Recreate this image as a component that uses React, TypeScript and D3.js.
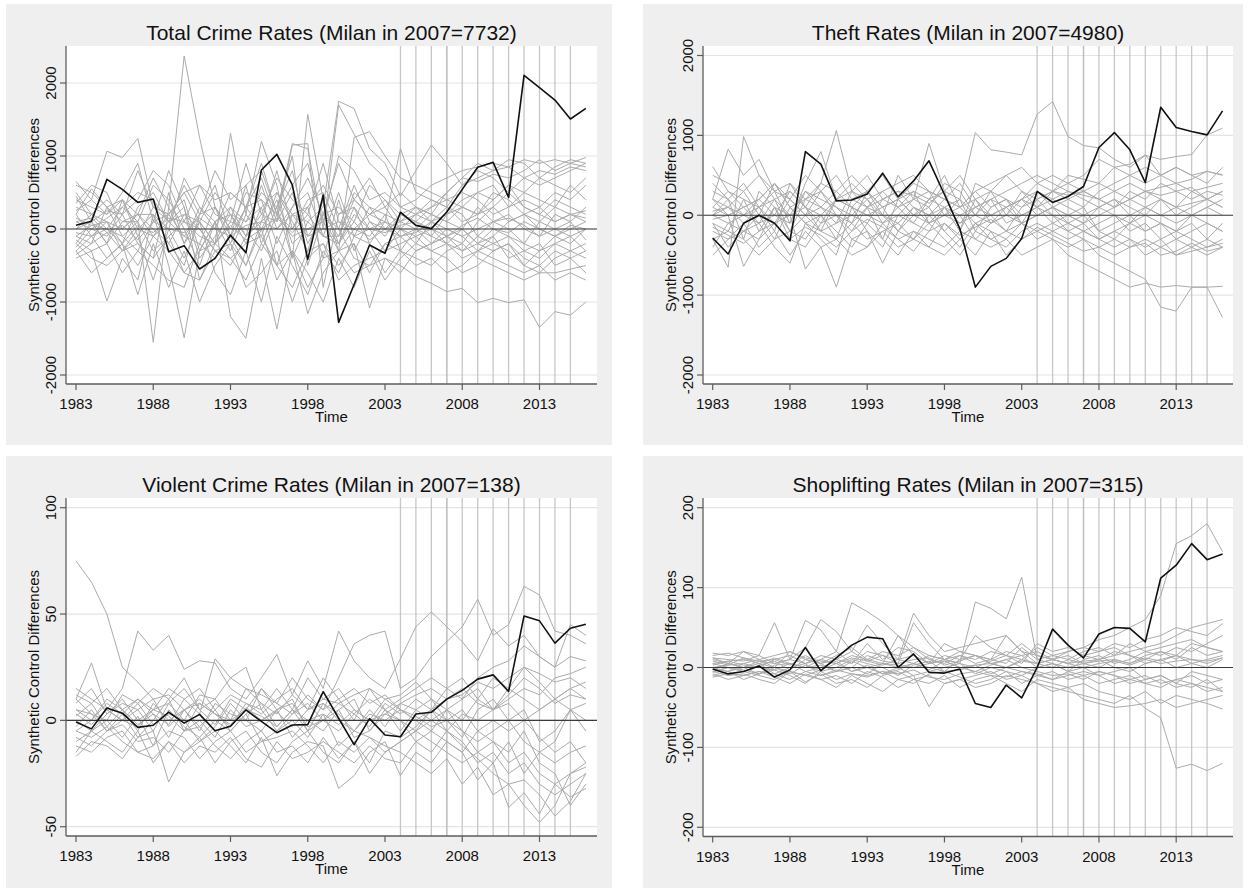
import React from 'react';
import * as d3 from 'd3';

// ---------- data ----------
const YEARS = d3.range(1983, 2017);
const X_TICKS = [1983, 1988, 1993, 1998, 2003, 2008, 2013];
const TREAT_YEARS = [2004, 2005, 2006, 2007, 2007, 2008, 2009, 2010, 2011, 2012, 2013, 2014, 2015];

const TITLES = [
  'Total Crime Rates (Milan in 2007=7732)',
  'Theft Rates (Milan in 2007=4980)',
  'Violent Crime Rates (Milan in 2007=138)',
  'Shoplifting Rates (Milan in 2007=315)',
];
const Y_TITLE = 'Synthetic Control Differences';
const X_TITLE = 'Time';

const TOTAL_TICKS = [-2000, -1000, 0, 1000, 2000];
const THEFT_TICKS = [-2000, -1000, 0, 1000, 2000];
const VIOLENT_TICKS = [-50, 0, 50, 100];
const SHOP_TICKS = [-200, -100, 0, 100, 200];

const TOTAL_MILAN = [50, 105, 680, 543, 365, 411, -311, -228, -548, -402, -85, -324, 808, 1023, 603, -416, 466, -1279, -760, -219, -333, 230, 50, 5, 233, 543, 845, 913, 434, 2105, 1936, 1767, 1507, 1653];
const TOTAL_PLACEBO = [
  [650, 400, 1065, 980, 1240, 300, 200, 400, -300, 100, 200, 100, 300, 500, 200, 100, 300, 1750, 1650, 1100, 900, 450, 800, 1150, 900, 600, 700, 800, 850, 950, 900, 950, 900, 980],
  [200, 550, 300, -100, 100, -1553, 300, 2370, 1250, 300, -200, -500, 100, 300, 1000, -500, 200, 300, 100, 600, 400, 200, 300, 200, 500, 700, 650, 750, 700, 800, 950, 800, 900, 850],
  [-400, -300, -986, -400, -700, 200, -500, -1489, -300, 100, -1200, -1498, -400, -1370, -300, -1160, -600, -300, -200, -1083, -400, -500, -650, -744, -858, -813, -1009, -950, -1009, -970, -1347, -1132, -1180, -1000],
  [400, 300, 200, 500, 900, 100, 800, 300, -700, -200, 1310, 200, 1200, 600, -400, 1570, 400, -300, 1255, 1333, 1000, 700, 600, 500, 400, 300, 200, 300, 100, 200, 300, 100, 200, 250],
  [-200, 100, 250, 200, 400, 800, 600, 100, 600, 400, 500, 300, 900, 200, 1170, 1100, 0, 1700, 1300, 900, 700, 300, 200, 100, -100, -200, 100, 300, 500, 300, 200, 100, 200, 150],
  [300, 200, 100, -300, 0, 200, -200, -500, 200, 600, -100, 300, 700, 100, 1150, 1170, -800, 200, 300, 0, 100, 1100, 500, 400, 300, 600, 800, 700, 500, 700, 600, 700, 800, 900],
  [100, 0, -100, 200, -200, -400, 500, -200, 300, 100, -300, 200, -100, 500, 100, -300, 400, -200, 300, -200, 100, 0, -200, 100, 300, 200, -100, 100, 0, -200, 100, 0, -100, 0],
  [-100, -200, 300, 100, 200, -100, 100, 300, -400, -100, 200, -200, 300, -500, 200, 300, -400, 400, -300, 100, -100, 200, 100, -100, 200, 400, 500, 600, 300, 500, 700, 600, 500, 700],
  [-300, -600, -400, -200, -900, -200, -800, -300, -1000, -500, -200, -800, -600, -300, -1000, -400, -200, -700, -500, -400, -300, -200, -100, 0, -200, -300, -100, -200, -300, -500, -600, -400, -300, -200],
  [500, 200, 0, -200, 300, 500, 100, -100, 200, 800, 400, 600, -200, 300, -400, 100, -100, 500, -100, 300, 200, -300, 0, 200, 100, 0, 300, 100, 200, 0, -100, 200, 100, 300],
  [0, 100, -200, 100, 100, 600, 400, 0, -500, 100, 300, -100, 100, 800, 0, 400, 500, 0, 600, 100, 0, 100, 200, 300, 400, 500, 400, 200, 300, 400, 300, 500, 400, 600],
  [-200, -400, -500, -300, -100, -700, 0, -400, 100, -600, -900, -300, -1000, -100, -500, -900, -300, -600, -100, -200, -600, -300, -400, -500, -300, -200, -400, -500, -600, -700, -600, -600, -550, -500],
  [250, 400, 200, 400, -100, 300, 200, 500, 600, 200, 100, 900, 200, 700, 400, 200, 900, 100, 0, 200, 400, 100, 0, -100, -200, 0, -200, -300, -200, -500, -300, -200, -300, -400],
  [-50, -100, 100, 0, 200, 0, -200, 200, 100, -200, 100, 0, -300, 200, -100, 0, 100, -300, 0, -100, 200, 100, 300, 200, 100, 300, 200, 400, 600, 500, 400, 300, 600, 400],
  [150, 50, 0, -100, -300, 100, 200, -100, -200, 300, 0, 500, 400, -200, 300, 500, -100, -100, 400, 700, 300, 0, -100, -300, -200, -400, -300, -100, -400, -300, -200, -500, -400, -300],
  [-250, 0, 150, 300, 100, -300, -100, 100, 0, -300, -500, -100, 200, 100, 500, -200, 200, 0, -400, -500, -200, -100, 0, -200, -100, -300, -200, 0, -100, -200, -300, -100, 0, 100],
  [350, 600, 500, 0, 200, 200, 0, 700, 300, 0, 500, 300, 0, 400, -200, 0, 100, 1000, 800, 400, 500, 300, 400, 600, 700, 800, 850, 900, 850, 700, 800, 750, 850, 800],
  [-150, -300, -200, -600, -300, -500, -700, -800, -200, -400, -100, -500, 0, -700, -300, -600, -1000, -400, -800, -300, -700, -400, -200, -300, -400, -600, -500, -300, -200, -400, -500, -700, -600, -700],
  [100, 150, -50, 50, -150, 100, 0, -50, 150, 0, -100, 50, 100, 0, 200, -100, 0, 100, -100, 0, -50, 50, 100, 0, -100, 50, 150, 0, -50, 100, 0, -100, 50, 0],
  [-100, 50, 100, -200, 50, -50, 150, 100, -100, -200, 50, -150, 0, 150, -50, 200, -100, -200, 100, -150, 0, -100, -50, 100, 0, -100, 0, 100, 150, 50, -100, 0, 100, -150],
  [600, 500, 300, 400, 200, 700, 300, -200, 100, 500, 200, -100, 600, 0, 300, 700, 200, -100, 500, 300, 0, 200, 100, 300, 500, 700, 900, 800, 950, 900, 700, 850, 950, 900],
  [-300, -100, -400, -200, -500, -100, -300, -600, -700, -300, -400, -200, -100, -500, -800, -300, -200, -500, -200, -600, -200, -300, -500, -400, -600, -500, -300, -400, -500, -600, -500, -300, -400, -600],
  [200, -100, 0, 300, 500, 400, 100, 200, 0, -300, -200, 300, 400, 200, 600, 900, 100, -200, 200, 0, -300, 0, 200, 400, 300, 100, 200, 500, 400, 200, 100, 300, 200, 100],
  [0, 200, 400, 200, 800, 300, 100, 600, 200, 300, -100, 600, 800, 200, 0, 300, 600, 200, 400, 200, 100, -100, -300, -200, 0, -100, -300, -200, -100, -300, -400, -200, -100, -300],
  [-350, -200, -50, -300, -200, -400, -100, -600, -300, -200, -400, -700, -200, -500, -300, -800, -400, -300, -600, -500, -400, -600, -300, -200, -100, 0, -200, -100, 100, 200, 0, -100, -200, 0],
  [450, 100, -200, 400, 0, -100, 200, 500, 100, -200, 300, 100, 500, 300, 800, -100, 200, 900, 400, 200, 300, 500, 300, 100, 200, 300, 500, 400, 600, 300, 200, 400, 300, 200],
];

const THEFT_MILAN = [-285, -485, -100, 0, -100, -320, 797, 640, 180, 190, 265, 527, 230, 430, 681, 260, -170, -900, -640, -540, -290, 298, 160, 235, 360, 848, 1035, 819, 410, 1352, 1098, 1048, 1006, 1306];
const THEFT_PLACEBO = [
  [610, 300, 100, 200, 400, 100, 200, 400, 1060, 300, 100, 200, 300, 250, 150, 300, 200, 1035, 820, 790, 756, 1265, 1423, 985, 873, 843, 700, 600, 750, 700, 735, 760, 1006, 1090],
  [200, 827, 500, 700, 300, -100, 400, 797, 200, 100, 300, 0, 500, 200, 900, 300, -200, 400, 300, 500, 600, 400, 300, 500, 450, 400, 600, 640, 756, 500, 600, 500, 550, 506],
  [-300, -650, 985, 500, 300, 200, 0, -200, -100, 300, 500, 200, 100, 300, 200, 500, 100, 200, 300, 0, 200, 100, 200, 300, 250, 200, 300, 400, 300, 250, 300, 350, 200, 300],
  [100, 0, -640, -300, -100, 0, -673, -400, -900, -300, -200, -600, -200, -300, -400, -100, -300, -500, -200, -300, -100, -200, -300, -400, -300, -500, -600, -700, -800, -1150, -1200, -900, -900, -1280],
  [-100, -200, -300, -500, -300, -200, -300, 0, -200, -400, -100, -300, -500, -200, -300, -400, -200, -300, -400, -300, -500, -400, -300, -500, -600, -700, -800, -900, -850, -900, -880, -900, -900, -890],
  [50, 100, 0, -100, 200, 300, 100, -200, 200, 100, 0, 100, 200, 0, -100, 100, 200, 0, -100, 100, 200, 0, 100, 200, 300, 200, 100, 300, 200, 400, 300, 200, 300, 250],
  [-50, 0, 100, 200, 0, -100, 300, 100, -100, 0, 200, -100, 0, 200, 100, -200, 0, 100, 200, -100, 0, 100, -100, 0, 100, -200, -100, 0, -200, -100, -300, -200, -100, -200],
  [300, 200, 400, 100, -100, 200, 500, 300, 0, -200, 100, 300, 100, -100, 200, 300, 500, 200, 0, 100, 200, 300, 100, 0, -100, 100, 200, 100, 0, 200, 100, 300, 200, 100],
  [-200, -300, -100, -400, -200, -500, -200, -400, -300, -100, -300, -200, -400, -300, -100, -300, -500, -200, -300, -400, -200, -100, -200, -300, -200, -300, -400, -300, -500, -400, -300, -400, -500, -400],
  [400, 200, 0, 100, 300, 400, 200, 100, 300, 500, 300, 100, 200, 400, 300, 200, 400, 100, 200, 300, 400, 500, 400, 300, 200, 100, 0, -100, 100, 0, -100, 0, 100, 0],
  [0, -100, -200, 0, -300, 100, -100, -300, -500, 100, -200, -400, 0, -100, -200, 100, 0, -300, -100, 0, -100, 0, 100, -100, -200, -100, 0, -200, -100, -300, -200, -300, -400, -300],
  [100, 300, 200, -200, 100, 0, 300, 200, 100, 0, -100, 200, 300, 100, 0, 200, 100, 300, 100, 200, 0, 100, 300, 400, 500, 700, 600, 500, 400, 500, 600, 500, 400, 600],
  [-400, -100, 0, 200, 400, 100, -100, 0, 200, 300, 200, 0, -200, 100, 0, 100, -100, 0, 300, 200, 100, 300, 200, 100, 0, 100, 200, 0, 100, 200, 0, 100, 200, 100],
  [200, 0, 100, -100, 0, 300, 100, 400, 300, 100, 0, -100, 100, 200, 300, 0, -100, 100, 0, -200, 100, 200, 0, -100, 0, -200, -300, -100, -200, -100, -200, -100, -300, -100],
  [0, 100, -100, 100, 200, -200, 0, 100, 0, -100, 100, 0, -100, 100, -100, 0, 100, -100, 0, 100, -100, 0, 100, 0, -100, 0, 100, 200, 100, 0, 100, 0, 100, 200],
  [-150, -250, -350, -200, -100, -300, -150, -250, -400, -200, -50, -150, -300, -450, -200, -100, -250, -150, -50, -200, -300, -150, -250, -350, -450, -400, -300, -400, -350, -500, -450, -350, -450, -400],
  [-300, -200, 200, 100, -200, 400, 100, 0, -300, 200, 100, -300, 200, 300, -100, 0, 200, -200, 100, 200, -100, 200, 300, 200, 100, 300, 400, 500, 600, 500, 400, 450, 550, 500],
  [500, 400, 300, 500, 200, 0, 100, -100, 200, 400, 200, 300, 400, 500, 300, 200, 100, 300, 400, 500, 300, 200, 300, 250, 300, 200, 100, 200, 300, 200, 100, 150, 200, 300],
  [-500, -300, -200, -100, -400, -600, -100, -200, -300, -500, -400, -100, -300, -200, -400, -500, -300, -100, -200, -500, -300, -200, -100, -200, -300, -400, -500, -400, -300, -400, -500, -450, -400, -350],
  [0, 200, -300, 300, 100, -200, 200, 300, 100, -100, 300, 100, -200, 0, 200, 100, -200, 200, -100, 0, 300, 100, 0, -200, -100, -300, -200, -100, 0, -100, -200, 0, -100, -200],
  [200, 100, 300, 0, 400, 200, 0, 300, 500, 200, 300, 500, 200, 0, 100, 400, 300, 0, 200, 100, 200, 400, 500, 400, 300, 400, 300, 200, 300, 350, 400, 300, 350, 400],
  [-100, -400, -200, -300, 100, -300, -400, -100, 0, -300, -400, -200, -100, -300, 0, -200, -400, -100, -300, -200, -100, -300, -200, -100, -200, -300, -200, -300, -400, -300, -500, -400, -300, -400],
];

const VIOLENT_MILAN = [-0.8, -4, 5.8, 3.4, -3.3, -2.3, 3.9, -1.3, 2.8, -4.9, -2.8, 4.9, -0.5, -5.8, -2.2, -2, 13.5, 1, -11.4, 0.8, -6.9, -7.7, 3, 3.8, 10, 14.1, 19.4, 21.4, 13.6, 49.1, 46.8, 36.3, 43.3, 45.2];
const VIOLENT_PLACEBO = [
  [75, 65, 50, 25, 18, 10, 12, 5, 8, 3, 0, 5, 2, -3, 5, 0, 3, -2, 5, 0, 3, 8, 12, 15, 10, 12, 18, 15, 20, 25, 22, 18, 20, 15],
  [10, 27, 5, 15, 42, 33, 40, 24, 28, 27, 15, 10, 20, 31, 12, 28, 15, 42, 28, 20, 15, 29, 44, 51, 44, 37, 28, 43, 35, 40, 30, 25, 45, 40],
  [5, 0, 8, 3, 10, 5, 15, 10, 3, 29, 20, 15, 12, 8, 20, 10, 5, 20, 36, 40, 42, 15, 20, 30, 37, 44, 57, 40, 45, 63, 59, 42, 40, 36],
  [-17, -10, -12, -18, -8, -5, -29, -15, -10, -5, -12, -20, -8, -26, -15, -10, -12, -32, -26, -15, -10, -26, -15, -20, -10, -15, -28, -20, -41, -34, -44, -30, -36, -32],
  [-5, -8, -3, -10, -15, -12, -5, -8, -18, -10, -5, -15, -10, -8, -5, -12, -20, -10, -15, -8, -12, -15, -20, -25, -18, -30, -22, -35, -30, -40, -48, -40, -25, -20],
  [3, -2, 5, 0, -3, 5, 2, -5, 8, 3, -2, 6, 0, 4, -3, 5, 8, 0, -5, 3, 0, 5, 2, -3, 0, 5, -5, -10, -15, -5, -20, -25, -40, -30],
  [12, 8, 15, 5, 10, 3, -2, 10, 15, 5, 12, 8, 3, 10, 15, 5, 10, 8, 12, 15, 5, 10, 15, 20, 15, 10, 20, 25, 28, 35, 30, 25, 30, 28],
  [-10, -5, 0, -8, 2, -12, 5, -3, -8, 0, -5, 3, -10, -5, 0, -8, 3, -12, -5, -8, -15, -10, -5, 0, 5, -5, -15, -20, -10, -25, -15, -20, -15, -12],
  [8, 15, 3, 10, 0, 5, 8, 15, 5, -2, 10, 5, 15, 8, 3, 12, 5, 10, 15, 8, 12, 5, 0, -5, 5, 10, 15, 5, 10, 15, 12, 20, 22, 25],
  [-3, 5, -5, 3, -8, 0, 10, -5, 0, -8, 5, -3, 0, 5, -8, 0, -5, 5, 10, -5, 5, 0, -10, -15, -5, -10, -20, -15, -25, -20, -30, -35, -30, -25],
  [0, -5, 3, 8, 5, 10, -3, 5, -5, 8, 3, 0, 15, 5, 10, -5, 0, 8, 3, 10, 5, -5, 5, 10, 0, -8, 5, 10, 0, 5, -10, -5, 5, 0],
  [-12, -15, -8, -5, -15, -18, -10, -20, -12, -15, -8, -18, -22, -10, -18, -15, -10, -15, -20, -12, -18, -20, -10, -5, -10, -15, -5, 0, -5, 0, -8, -15, -10, -20],
  [5, 3, 0, 12, 8, -2, 3, 0, 12, 10, 20, 25, 5, 15, 5, 20, 10, 15, 5, 0, 10, 12, 18, 10, 5, 0, 10, 20, 15, 25, 18, 10, 15, 18],
  [-8, -12, -5, -2, -10, -8, -15, -5, -3, -12, -18, -10, -5, -15, -12, -20, -8, -18, -10, -20, -5, -8, -3, 5, -5, -12, -18, -25, -30, -28, -35, -45, -38, -25],
  [15, 10, 5, 0, 8, 15, 10, 20, 5, 10, 0, 15, 8, 3, 12, 5, 20, 10, 0, 15, 10, 5, 0, 5, 15, 20, 10, 5, 15, 10, 5, 10, 15, 10],
  [-15, -5, -10, -15, -5, -20, -10, -15, -8, -20, -10, -5, -15, -20, -10, -5, -15, -20, -10, -25, -15, -10, -5, -10, -15, -20, -15, -10, -20, -15, -25, -30, -25, -22],
  [2, 8, -3, 5, -5, 8, 0, 5, -3, 5, -5, 3, 8, -3, 5, -5, 8, 3, -5, 5, -3, 8, 5, 0, -5, 3, 0, 5, 8, 0, 5, 10, 5, 8],
  [-5, 0, 10, 5, -2, 3, -8, 5, 10, 3, -3, 8, 5, -5, 3, 8, 0, -5, 3, -3, 8, 3, 10, 5, 0, -5, -10, -5, 0, -10, -15, -10, 5, -5],
  [10, 3, -5, 0, 5, -5, 8, 0, -10, -3, 8, 0, -5, 5, 8, -3, 0, 5, -8, -5, 3, 0, -5, 5, 10, 15, 8, 5, 12, 20, 15, 8, 12, 10],
];

const SHOP_MILAN = [-2, -8, -5, 2, -12, -3, 25, -4, 12, 28, 38, 36, 0, 17, -6, -7, -2, -45, -50, -22, -38, 0, 48, 28, 12, 42, 50, 49, 32, 112, 128, 155, 135, 142];
const SHOP_PLACEBO = [
  [15, 18, 12, 8, 5, 10, 59, 47, 20, 81, 70, 57, 40, 25, 15, 10, 5, 82, 74, 61, 113, 10, 15, 20, 25, 35, 40, 50, 60, 90, 155, 165, 180, 145],
  [10, 5, 20, 15, 56, 10, 25, 60, 45, 20, 53, 30, 10, 68, 40, 20, 25, 30, 35, 40, 20, 15, 10, 5, 8, 10, 15, 20, 25, 30, 40, 50, 55, 60],
  [-5, -10, -8, -15, -20, -5, -10, -15, -25, -10, -20, -30, -15, -10, -49, -20, -15, -10, -5, -15, -10, -20, -25, -30, -35, -40, -45, -35, -51, -63, -126, -121, -129, -120],
  [5, 0, -5, 3, 8, -3, 10, 5, -5, 0, 15, 8, 5, 56, 30, 10, 15, 5, 10, 20, 15, 0, 5, -5, 10, 15, 5, 10, 20, 15, 25, 20, 30, 40],
  [-8, -15, -10, -5, -12, -20, -8, -15, -10, -20, -5, -12, -25, -15, -10, -20, -15, -25, -20, -10, -15, -20, -30, -25, -20, -30, -35, -40, -30, -45, -35, -40, -45, -52],
  [12, 10, 8, 15, 5, 10, 5, 15, 10, 5, 20, 15, 10, 5, 15, 10, 20, 15, 10, 5, 25, 10, 5, 0, 5, 10, 0, -5, 5, 10, 0, 5, 10, 15],
  [-3, 5, 0, -8, 3, 5, -5, 0, 8, -5, 3, -8, 0, 5, -3, 8, 0, -5, 3, 10, 0, -5, -10, -8, -15, -5, -10, -20, -15, -10, -20, -25, -15, -30],
  [0, -5, 5, 10, 0, -8, 3, -5, 0, 10, 5, 0, -10, 3, 8, -5, 10, 15, 5, 0, 10, 25, 15, 10, 20, 25, 15, 30, 20, 25, 30, 35, 25, 20],
  [18, 15, 20, 10, 15, 20, 12, 8, 5, 15, 10, 20, 15, 25, 10, 5, 15, 10, 20, 15, 5, 30, 20, 25, 15, 10, 20, 15, 5, 10, 15, 5, 0, 10],
  [-10, -5, -15, -8, -3, -10, -20, -5, -15, -8, -10, -5, -15, -20, -8, -5, -12, -20, -15, -5, -20, -10, -15, -5, -10, -20, -15, -10, -20, -25, -15, -20, -25, -30],
  [5, 8, 3, 0, 10, 15, 5, 10, 20, 5, 30, 10, 25, 20, 5, 15, 10, 40, 25, 15, 30, 15, 10, 20, 25, 20, 30, 25, 35, 40, 50, 45, 40, 55],
  [-2, -5, 0, 5, -8, 0, 5, -10, -5, 0, -8, 5, 0, -10, -5, 0, 5, -8, 0, -5, -10, 0, 5, -5, 0, -10, -5, 0, -15, -10, -20, -5, -10, -15],
  [8, 3, 12, 5, 0, 20, 10, 5, 15, 25, 10, 5, 40, 15, 5, 30, 20, 15, 10, 40, 20, 5, 10, 15, 5, 0, 10, 5, 15, 20, 10, 25, 15, 20],
  [-6, 0, -5, -10, -15, -5, -18, -8, -20, -15, -25, -10, -5, -15, -20, -10, -25, -15, -10, -20, -30, -15, -20, -25, -40, -45, -50, -48, -45, -40, -50, -45, -40, -35],
  [3, 8, 10, 5, 12, 5, 0, 10, 5, 12, 8, 3, 10, 15, 5, 10, 5, 0, 8, 15, 10, 5, 0, 10, 5, 8, 10, 5, 12, 8, 15, 10, 8, 12],
  [-5, 0, -3, -8, 0, -5, -10, -3, 5, -5, 0, -8, -3, 5, 0, -5, -3, 3, -8, 0, -5, -10, -5, -15, -10, -5, -10, -15, -20, -15, -25, -20, -30, -25],
  [12, 5, 0, 8, 10, 3, 15, 5, 10, 20, 8, 15, 5, 10, 12, 3, 8, 15, 5, 10, 15, 20, 10, 5, 15, 20, 25, 15, 10, 20, 15, 30, 25, 20],
  [-12, -8, -10, -5, -8, -15, -5, -10, -3, -8, -12, -5, -8, -3, -12, -15, -8, -5, -10, -12, -5, -8, -15, -10, -5, -10, -20, -15, -10, -20, -15, -10, -20, -15],
  [0, 3, 5, 0, -3, 5, 0, 3, -5, 8, 0, 5, 3, 0, 5, 8, 0, 3, 5, 0, 8, 5, 10, 5, 0, 5, 8, 3, 10, 5, 8, 10, 5, 12],
];

// ---------- layout ----------
const FONT = "'Liberation Sans', Arial, Helvetica, sans-serif";
const BG = '#efefef';
const GRID = '#e4e4e4';
const AXIS = '#5c5c5c';
const PLACEBO = '#ababab';
const VLINE = '#bdbdbd';

type Layout = {
  bx: number; by: number; bw: number; bh: number;
  left: number; right: number; top: number; bottom: number;
  yLo: number; yHi: number; pxLo: number; pxHi: number;
  x0: number;
};

const LAYOUTS: Layout[] = [
  { bx: 6, by: 4, bw: 606, bh: 441, left: 66, right: 597, top: 46, bottom: 384, yLo: -2000, yHi: 2000, pxLo: 375, pxHi: 83, x0: 76 },
  { bx: 643, by: 4, bw: 600, bh: 441, left: 703, right: 1233, top: 46, bottom: 384, yLo: -2000, yHi: 2000, pxLo: 375, pxHi: 55.5, x0: 712.7 },
  { bx: 6, by: 456, bw: 606, bh: 432, left: 66, right: 597, top: 498, bottom: 836, yLo: -50, yHi: 100, pxLo: 826.7, pxHi: 507.7, x0: 76 },
  { bx: 643, by: 456, bw: 600, bh: 432, left: 703, right: 1233, top: 498, bottom: 836.5, yLo: -200, yHi: 200, pxLo: 827.3, pxHi: 507.7, x0: 712.7 },
];

const PANELS = [
  { title: TITLES[0], ticks: TOTAL_TICKS, milan: TOTAL_MILAN, placebo: TOTAL_PLACEBO },
  { title: TITLES[1], ticks: THEFT_TICKS, milan: THEFT_MILAN, placebo: THEFT_PLACEBO },
  { title: TITLES[2], ticks: VIOLENT_TICKS, milan: VIOLENT_MILAN, placebo: VIOLENT_PLACEBO },
  { title: TITLES[3], ticks: SHOP_TICKS, milan: SHOP_MILAN, placebo: SHOP_PLACEBO },
];

const YEAR_PX = 15.45;

function Panel({ data, L }: { data: typeof PANELS[number]; L: Layout }) {
  const x = d3.scaleLinear().domain([1983, 2013]).range([L.x0, L.x0 + 30 * YEAR_PX]);
  const y = d3.scaleLinear().domain([L.yLo, L.yHi]).range([L.pxLo, L.pxHi]);
  const line = d3.line<number>().x((_, i) => x(YEARS[i])).y((v) => y(v));
  const cx = (L.left + L.right) / 2;
  const cy = (L.top + L.bottom) / 2;
  return (
    <g>
      <rect x={L.bx} y={L.by} width={L.bw} height={L.bh} fill={BG} />
      <rect x={L.left} y={L.top} width={L.right - L.left} height={L.bottom - L.top} fill="#fff" />
      {data.ticks.map((t) => (
        <line key={'g' + t} x1={L.left} x2={L.right} y1={y(t)} y2={y(t)} stroke={GRID} strokeWidth={1.2} />
      ))}
      {TREAT_YEARS.map((yr, i) => (
        <line key={'v' + i} x1={x(yr)} x2={x(yr)} y1={L.top} y2={L.bottom} stroke={VLINE} strokeWidth={1.3} strokeOpacity={0.85} />
      ))}
      {data.placebo.map((s, i) => (
        <path key={'p' + i} d={line(s) || ''} fill="none" stroke={PLACEBO} strokeWidth={1} strokeLinejoin="round" />
      ))}
      <line x1={L.left} x2={L.right} y1={y(0)} y2={y(0)} stroke="#3a3a3a" strokeWidth={1.2} />
      <path d={line(data.milan) || ''} fill="none" stroke="#111" strokeWidth={1.6} strokeLinejoin="round" />
      <line x1={L.left} x2={L.left} y1={L.top} y2={L.bottom} stroke={AXIS} strokeWidth={1.3} />
      <line x1={L.left} x2={L.right} y1={L.bottom} y2={L.bottom} stroke={AXIS} strokeWidth={1.3} />
      {data.ticks.map((t) => (
        <g key={'yt' + t}>
          <line x1={L.left - 6} x2={L.left} y1={y(t)} y2={y(t)} stroke={AXIS} strokeWidth={1.2} />
          <text
            transform={`translate(${L.left - 10},${y(t)}) rotate(-90)`}
            textAnchor="middle"
            fontSize={15}
            fontFamily={FONT}
            fill="#111"
          >
            {t}
          </text>
        </g>
      ))}
      {X_TICKS.map((t) => (
        <g key={'xt' + t}>
          <line x1={x(t)} x2={x(t)} y1={L.bottom} y2={L.bottom + 6} stroke={AXIS} strokeWidth={1.2} />
          <text x={x(t)} y={L.bottom + 25} textAnchor="middle" fontSize={15} fontFamily={FONT} fill="#111">
            {t}
          </text>
        </g>
      ))}
      <text x={cx} y={L.bottom + 38} textAnchor="middle" fontSize={15} fontFamily={FONT} fill="#111">
        {X_TITLE}
      </text>
      <text
        transform={`translate(${L.left - 27.5},${cy}) rotate(-90)`}
        textAnchor="middle"
        fontSize={15}
        fontFamily={FONT}
        fill="#111"
      >
        {Y_TITLE}
      </text>
      <text x={cx} y={L.top - 6} textAnchor="middle" fontSize={21} fontFamily={FONT} fill="#111">
        {data.title}
      </text>
    </g>
  );
}

export default function App() {
  return (
    <svg
      width={1248}
      height={890}
      style={{ position: 'absolute', left: 0, top: 0, display: 'block', background: '#fff' }}
    >
      {PANELS.map((p, i) => (
        <Panel key={i} data={p} L={LAYOUTS[i]} />
      ))}
    </svg>
  );
}
